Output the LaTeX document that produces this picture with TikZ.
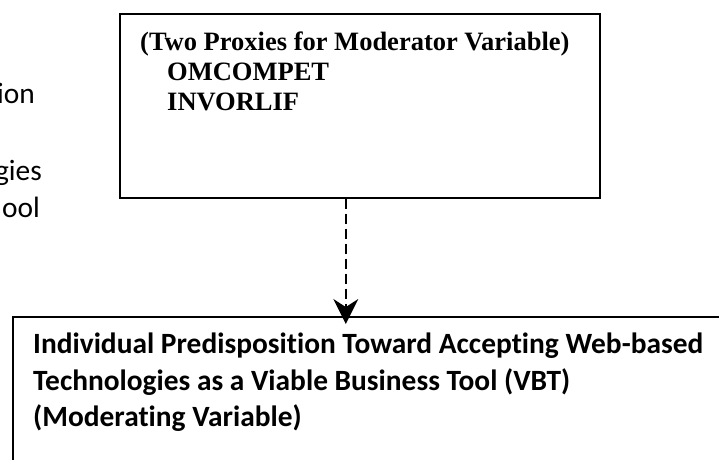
\documentclass[tikz,border=0pt]{standalone}
\usepackage{fontspec}
\setmainfont{Liberation Serif}
\newfontfamily\calibrifont[Ligatures=NoCommon]{Carlito}
\usetikzlibrary{arrows.meta}
\begin{document}
\begin{tikzpicture}[x=1pt,y=-1pt,
  boxline/.style={draw=black,line width=1.6pt},
  proxytext/.style={anchor=base west,inner sep=0pt,font=\fontsize{26.5}{30}\selectfont\bfseries},
  vbttext/.style={anchor=base west,inner sep=0pt,font=\calibrifont\fontsize{29.4}{34}\selectfont\bfseries},
  sidetext/.style={anchor=base east,inner sep=0pt,font=\calibrifont\fontsize{29.4}{34}\selectfont},
  linkline/.style={line width=1.6pt,dash pattern=on 10pt off 5pt,
    -{Stealth[length=25pt,width=25pt,inset=8pt]}}]
\useasboundingbox (0,0) rectangle (719,459);
\clip (0,0) rectangle (719,459);

% moderator proxies box
\node[boxline,minimum width=480pt,minimum height=184pt,anchor=north west,inner sep=0pt]
  (proxies) at (119,13) {};
\node[proxytext] (proxyhead) at (140,50) {(Two Proxies for Moderator Variable)};
\node[proxytext] (omcompet) at (167,80) {OMCOMPET};
\node[proxytext] (invorlif) at (167,110) {INVORLIF};

% moderating variable box, running past the page edges
\node[boxline,minimum width=740pt,minimum height=200pt,anchor=north west,inner sep=0pt]
  (vbt) at (12,316) {};
\node[vbttext] (vbt1) at (33,353) {Individual Predisposition Toward Accepting Web-based};
\node[vbttext] (vbt2) at (33,390) {Technologies as a Viable Business Tool (VBT)};
\node[vbttext] (vbt3) at (33,426) {(Moderating Variable)};

% remains of the box on the left
\node[sidetext] (side1) at (35,103) {ion};
\node[sidetext] (side2) at (42,180) {gies};
\node[sidetext] (side3) at (40,217) {ool};

% dashed link
\coordinate (linkstart) at ([xshift=-14pt]proxies.south);
\coordinate (linkend) at ([yshift=-8pt]vbt.north west -| linkstart);
\draw[linkline] (linkstart) -- (linkend);
\end{tikzpicture}
\end{document}
